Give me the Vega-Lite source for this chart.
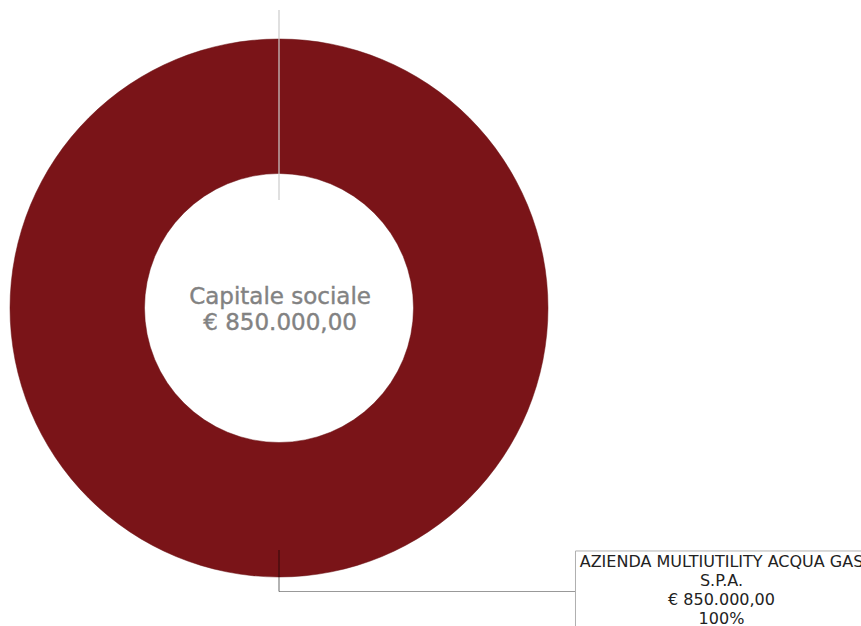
{
  "$schema": "https://vega.github.io/schema/vega-lite/v6.json",
  "width": 861,
  "height": 626,
  "autosize": {"type": "none"},
  "padding": 0,
  "background": "white",
  "config": {"view": {"stroke": null}},
  "datasets": {
    "soci": [
      {"socio": "AZIENDA MULTIUTILITY ACQUA GAS S.P.A.", "valore": 850000, "quota": "100%"}
    ]
  },
  "data": {"name": "soci"},
  "layer": [
    {
      "mark": {"type": "arc", "radius": 269, "radius2": 134.5, "fill": "#7a1418", "stroke": "#6a1215", "strokeWidth": 0.5},
      "encoding": {
        "theta": {"field": "valore", "type": "quantitative"},
        "x": {"datum": 0, "type": "quantitative", "scale": {"domain": [-1.0372, 2.1636], "nice": false, "zero": false}, "axis": null},
        "y": {"datum": 0, "type": "quantitative", "scale": {"domain": [-1.1822, 1.145], "nice": false, "zero": false}, "axis": null}
      }
    },
    {
      "mark": {"type": "rule", "color": "#cccccc", "opacity": 0.8, "strokeWidth": 1.5},
      "encoding": {
        "x": {"datum": 0, "type": "quantitative"},
        "y": {"datum": 0.4015, "type": "quantitative"},
        "y2": {"datum": 1.1078}
      }
    },
    {
      "mark": {"type": "rule", "color": "#000000", "opacity": 0.4, "strokeWidth": 1.5},
      "encoding": {
        "x": {"datum": 0, "type": "quantitative"},
        "y": {"datum": -0.8996, "type": "quantitative"},
        "y2": {"datum": -1.0539}
      }
    },
    {
      "mark": {"type": "rule", "color": "#000000", "opacity": 0.4, "strokeWidth": 1.2},
      "encoding": {
        "x": {"datum": 0, "type": "quantitative"},
        "x2": {"datum": 1.1022},
        "y": {"datum": -1.0539, "type": "quantitative"}
      }
    },
    {
      "mark": {"type": "rect", "fill": "white", "stroke": "#b0b0b0", "strokeWidth": 1, "clip": true},
      "encoding": {
        "x": {"datum": 1.1022, "type": "quantitative"},
        "x2": {"datum": 2.3},
        "y": {"datum": -0.9033, "type": "quantitative"},
        "y2": {"datum": -1.3}
      }
    },
    {
      "mark": {"type": "text", "align": "center", "baseline": "middle", "font": "DejaVu Sans", "fontSize": 16, "lineHeight": 19, "color": "#222222"},
      "encoding": {
        "x": {"datum": 1.6450, "type": "quantitative"},
        "y": {"datum": -0.9442, "type": "quantitative"},
        "text": {"value": ["AZIENDA MULTIUTILITY ACQUA GAS", "S.P.A.", "€ 850.000,00", "100%"]}
      }
    },
    {
      "mark": {"type": "text", "align": "center", "baseline": "middle", "font": "DejaVu Sans", "fontSize": 23, "lineHeight": 26, "color": "#828282", "stroke": "#828282", "strokeWidth": 0.4},
      "encoding": {
        "x": {"datum": 0.004, "type": "quantitative"},
        "y": {"datum": 0.0409, "type": "quantitative"},
        "text": {"value": ["Capitale sociale", "€ 850.000,00"]}
      }
    }
  ]
}
